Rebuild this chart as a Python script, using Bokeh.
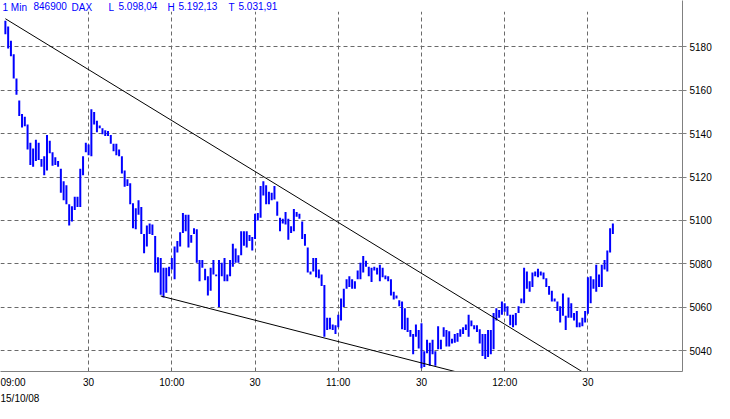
from bokeh.plotting import figure
from bokeh.models import Range1d, FixedTicker, Label, BoxAnnotation, Title
from bokeh.embed import file_html
from bokeh.resources import INLINE

# ---- data: 1-minute DAX bars, 15/10/08, minutes after 09:00 ----
high = [5192.1, 5189.4, 5182.8, 5176.6, 5165.5, 5155.3, 5149.1, 5147.8, 5144.3, 5135.8,
        5133.2, 5137.2, 5135.8, 5128.3, 5129.6, 5139.4, 5136.7, 5131.4, 5129.2, 5127.4,
        5123.9, 5118.1, 5116.3, 5107.5, 5106.6, 5111.0, 5111.0, 5123.9, 5129.6, 5135.8,
        5135.0, 5151.3, 5150.0, 5146.0, 5143.8, 5142.5, 5141.6, 5141.2, 5139.4, 5135.4,
        5135.4, 5132.7, 5129.6, 5123.0, 5119.0, 5117.2, 5107.9, 5105.7, 5109.3, 5106.2,
        5093.8, 5097.7, 5098.6, 5098.2, 5092.9, 5083.1, 5082.7, 5078.2, 5078.2, 5078.7,
        5082.7, 5088.0, 5090.6, 5094.6, 5103.5, 5102.6, 5102.6, 5093.3, 5096.4, 5096.0,
        5081.8, 5081.8, 5077.8, 5074.3, 5078.2, 5081.8, 5075.1, 5081.8, 5080.5, 5082.7,
        5075.1, 5081.8, 5089.3, 5087.1, 5084.0, 5095.1, 5095.1, 5095.1, 5093.3, 5092.4,
        5103.1, 5103.5, 5115.9, 5118.1, 5116.3, 5113.2, 5112.8, 5115.9, 5108.8, 5101.3,
        5100.8, 5103.9, 5100.8, 5097.3, 5105.3, 5103.9, 5103.1, 5099.5, 5093.8, 5087.5,
        5076.5, 5082.7, 5082.7, 5077.4, 5075.1, 5070.3, 5055.2, 5055.2, 5052.1, 5051.7,
        5056.5, 5064.1, 5068.5, 5072.9, 5074.3, 5072.9, 5072.0, 5076.9, 5080.5, 5083.6,
        5081.4, 5078.7, 5078.2, 5078.7, 5078.2, 5079.6, 5078.2, 5074.7, 5074.3, 5072.9,
        5067.2, 5065.4, 5063.2, 5062.7, 5059.6, 5055.2, 5049.5, 5047.7, 5052.1, 5049.5,
        5052.6, 5039.7, 5045.0, 5043.7, 5045.0, 5039.7, 5051.2, 5045.0, 5050.8, 5049.5,
        5049.0, 5045.5, 5047.7, 5048.1, 5049.9, 5050.8, 5052.1, 5056.5, 5053.9, 5051.7,
        5051.7, 5049.9, 5047.7, 5047.7, 5049.5, 5049.5, 5057.4, 5059.6, 5058.8, 5062.7,
        5061.9, 5060.5, 5056.5, 5056.5, 5057.4, 5060.5, 5064.1, 5078.2, 5076.5, 5072.0,
        5076.0, 5076.5, 5077.8, 5076.5, 5076.0, 5073.4, 5069.8, 5067.6, 5064.1, 5062.7,
        5060.5, 5066.3, 5056.1, 5064.5, 5061.9, 5057.4, 5058.3, 5053.0, 5055.2, 5058.3,
        5073.8, 5074.3, 5072.9, 5079.6, 5075.1, 5079.6, 5081.8, 5086.2, 5096.4, 5098.6]
low = [5185.9, 5179.3, 5175.7, 5165.5, 5158.0, 5148.2, 5142.9, 5143.4, 5132.7, 5125.6,
       5124.8, 5127.4, 5127.9, 5124.8, 5120.8, 5123.0, 5131.0, 5125.2, 5125.6, 5124.8,
       5112.8, 5109.3, 5107.5, 5097.7, 5099.5, 5104.8, 5106.2, 5106.2, 5120.8, 5131.4,
       5130.1, 5129.6, 5144.3, 5140.7, 5142.5, 5139.8, 5138.9, 5138.9, 5135.4, 5131.9,
       5130.1, 5129.6, 5121.7, 5115.5, 5115.9, 5107.5, 5096.4, 5096.0, 5102.6, 5093.8,
       5084.9, 5088.0, 5093.8, 5093.3, 5076.0, 5076.0, 5065.8, 5064.5, 5066.7, 5074.3,
       5077.4, 5072.9, 5085.3, 5088.0, 5094.2, 5095.1, 5087.5, 5089.8, 5093.8, 5080.5,
       5072.0, 5078.2, 5072.5, 5065.4, 5067.6, 5075.1, 5074.3, 5060.1, 5074.3, 5072.0,
       5072.0, 5074.3, 5078.7, 5080.5, 5080.5, 5084.0, 5088.4, 5087.5, 5090.6, 5086.2,
       5091.5, 5100.0, 5101.3, 5111.5, 5107.5, 5107.5, 5109.3, 5109.7, 5102.2, 5095.1,
       5098.6, 5098.2, 5091.1, 5094.2, 5095.1, 5101.7, 5100.8, 5091.5, 5088.4, 5076.0,
       5075.1, 5076.5, 5073.8, 5073.4, 5069.8, 5046.4, 5049.5, 5049.9, 5049.5, 5047.7,
       5050.8, 5053.9, 5060.1, 5068.5, 5069.4, 5068.5, 5068.5, 5072.9, 5072.9, 5076.0,
       5078.7, 5074.3, 5071.6, 5076.9, 5075.1, 5072.0, 5073.8, 5072.9, 5072.0, 5065.4,
       5063.6, 5064.1, 5060.5, 5049.9, 5049.5, 5048.6, 5046.4, 5038.4, 5046.4, 5041.0,
       5031.9, 5032.5, 5038.8, 5033.1, 5038.4, 5033.1, 5040.6, 5040.6, 5046.4, 5041.9,
       5041.9, 5043.3, 5043.7, 5044.1, 5046.4, 5047.7, 5049.5, 5046.4, 5051.2, 5049.9,
       5048.6, 5043.3, 5037.5, 5036.2, 5037.1, 5038.4, 5040.6, 5053.9, 5055.2, 5056.5,
       5057.9, 5056.1, 5051.7, 5050.8, 5051.7, 5057.4, 5061.9, 5061.9, 5068.5, 5067.2,
       5069.4, 5074.3, 5073.8, 5074.7, 5072.9, 5069.4, 5065.8, 5062.7, 5062.7, 5058.3,
       5053.0, 5056.1, 5049.5, 5055.2, 5055.2, 5053.9, 5050.8, 5050.8, 5051.2, 5053.0,
       5057.0, 5061.9, 5068.5, 5067.2, 5069.4, 5069.4, 5077.4, 5076.5, 5085.3, 5093.8]
minute = list(range(len(high)))

# trend lines (minutes after 09:00, price)
upper_trend_t = [0, 209]
upper_trend_p = [5193.0, 5029.5]
lower_trend_t = [56, 164.5]
lower_trend_p = [5065.2, 5029.6]

price_ticks = [5040, 5060, 5080, 5100, 5120, 5140, 5160, 5180]
time_ticks = [30, 60, 90, 120, 150, 180, 210]
time_labels = ["30", "10:00", "30", "11:00", "30", "12:00", "30"]
first_time_label = "09:00"
date_label = "15/10/08"
header_texts = ["1 Min", "846900", "DAX", "L", "5.098,04", "H", "5.192,13", "T", "5.031,91"]
header_x = [2, 33, 71, 108, 118, 167, 178, 228, 238]

FONT = "Liberation Sans"
BLUE = "#0000ff"
GRID = "#6a6a6a"
Y0, Y1 = 5030.4, 5201.4
FIRST_LABEL_POS = 2.74   # where the left-flush "09:00" label is centred (layout only)

p = figure(width=714, height=403, output_backend="svg", toolbar_location=None,
           x_range=Range1d(-1.76, 244.1), y_range=Range1d(Y0, Y1),
           y_axis_location="right", min_border_left=0, min_border_top=0,
           min_border_right=0, min_border_bottom=31)
p.outline_line_color = None
p.background_fill_color = "white"
p.border_fill_color = "white"

# axes
p.yaxis.ticker = FixedTicker(ticks=price_ticks)
p.yaxis.major_tick_in = 4
p.yaxis.major_tick_out = 4
p.yaxis.minor_tick_line_color = None
p.yaxis.axis_line_color = "#808080"
p.yaxis.major_tick_line_color = "#808080"
p.yaxis.major_label_text_font = FONT
p.yaxis.major_label_text_font_size = "10px"
p.yaxis.major_label_text_color = "black"
p.yaxis.major_label_standoff = 3

overrides = {t: lab for t, lab in zip(time_ticks, time_labels)}
overrides[FIRST_LABEL_POS] = first_time_label
p.xaxis.ticker = FixedTicker(ticks=[FIRST_LABEL_POS] + time_ticks)
p.xaxis.major_label_overrides = overrides
p.xaxis.major_tick_in = 0
p.xaxis.major_tick_out = 0
p.xaxis.minor_tick_line_color = None
p.xaxis.axis_line_color = "#808080"
p.xaxis.major_label_text_font = FONT
p.xaxis.major_label_text_font_size = "10px"
p.xaxis.major_label_text_color = "black"
p.xaxis.major_label_standoff = 5

p.xgrid.ticker = FixedTicker(ticks=time_ticks)
for g in (p.xgrid, p.ygrid):
    g.grid_line_color = GRID
    g.grid_line_dash = "4 3"
    g.grid_line_width = 1

# date under the first time label
p.add_layout(Title(text=date_label, align="left", text_font=FONT, text_font_size="10px",
                   text_font_style="normal", text_color="black", standoff=0, offset=0),
             "below")

# white header strip over the top of the grid
p.add_layout(BoxAnnotation(bottom=Y1 - 5.2, fill_color="white", fill_alpha=1.0,
                           line_color=None, level="underlay"))

# bars
p.segment(x0=minute, y0=low, x1=minute, y1=high, line_color=BLUE, line_width=2)

# trend lines
p.line(upper_trend_t, upper_trend_p, line_color="black", line_width=1)
p.line(lower_trend_t, lower_trend_p, line_color="black", line_width=1)

# header
for txt, hx in zip(header_texts, header_x):
    p.add_layout(Label(x=hx, y=Y1 - 0.5, x_units="screen", y_units="data", text=txt,
                       text_font=FONT, text_font_size="10px", text_color=BLUE,
                       text_baseline="top", text_align="left"))

open("out.html", "w").write(file_html(p, INLINE))
